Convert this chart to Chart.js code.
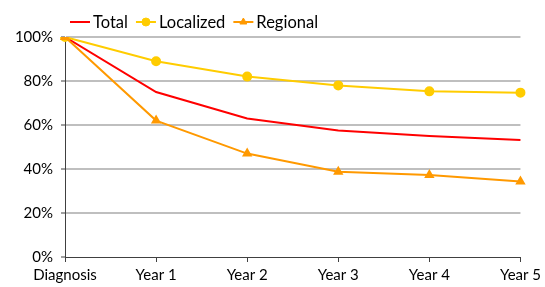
<!DOCTYPE html>
<html>
<head>
<meta charset="utf-8">
<script src="https://cdn.jsdelivr.net/npm/chart.js@4/dist/chart.umd.min.js"></script>
<style>
    html, body { margin: 0; padding: 0; background: #fff; }
    #wrap { position: relative; width: 545px; height: 287px; }
</style>
</head>
<body>
<div id="wrap"><canvas id="chart1"></canvas></div>
<script>
// values (percent surviving)
var categories = ['Diagnosis', 'Year 1', 'Year 2', 'Year 3', 'Year 4', 'Year 5'];
var totalValues = [100, 75, 63, 57.5, 55, 53.2];
var localizedValues = [100, 89, 82, 78, 75.3, 74.7];
var regionalValues = [100, 62, 47, 38.8, 37.3, 34.3];
var yTicks = [0, 20, 40, 60, 80, 100];

var FONT = 'Lato';

// simple legend drawn above the plot: line + marker + label
var lineLegend = {
    id: 'lineLegend',
    afterDraw: function (chart) {
        var ctx = chart.ctx;
        var x = 70;
        var y = 22;
        ctx.save();
        ctx.font = '16.5px ' + FONT;
        ctx.textBaseline = 'middle';
        ctx.textAlign = 'left';
        chart.data.datasets.forEach(function (ds) {
            ctx.strokeStyle = ds.borderColor;
            ctx.lineWidth = 2;
            ctx.beginPath();
            ctx.moveTo(x, y);
            ctx.lineTo(x + 20, y);
            ctx.stroke();
            if (ds.pointRadius > 0) {
                ctx.fillStyle = ds.pointBackgroundColor;
                ctx.strokeStyle = ds.borderColor;
                ctx.lineWidth = 1;
                Chart.helpers.drawPoint(ctx, {
                    pointStyle: ds.pointStyle,
                    radius: ds.pointRadius,
                    rotation: 0,
                    borderWidth: 1
                }, x + 10, y);
            }
            ctx.fillStyle = '#000';
            ctx.fillText(ds.label, x + 23, y + 1);
            x = x + 23 + ctx.measureText(ds.label).width + 8;
        });
        ctx.restore();
    }
};

var ctxChart1 = document.getElementById('chart1').getContext('2d');
var chart1 = new Chart(ctxChart1, {
    type: 'line',
    plugins: [lineLegend],
    data: {
        labels: categories,
        datasets: [{
            label: 'Total',
            data: totalValues,
            borderColor: '#ff0000',
            backgroundColor: '#ff0000',
            borderWidth: 2,
            pointRadius: 0,
            tension: 0,
            order: 2
        }, {
            label: 'Localized',
            data: localizedValues,
            borderColor: '#ffcc00',
            backgroundColor: '#ffcc00',
            pointBackgroundColor: '#ffcc00',
            pointBorderColor: '#ffcc00',
            borderWidth: 2,
            pointStyle: 'circle',
            pointRadius: 4,
            tension: 0,
            order: 1
        }, {
            label: 'Regional',
            data: regionalValues,
            borderColor: '#ff9900',
            backgroundColor: '#ff9900',
            pointBackgroundColor: '#ff9900',
            pointBorderColor: '#ff9900',
            borderWidth: 2,
            pointStyle: 'triangle',
            pointRadius: 4,
            tension: 0,
            order: 0
        }]
    },
    options: {
        responsive: true,
        maintainAspectRatio: false,
        animation: false,
        layout: {
            padding: { top: 37, right: 23, left: 0, bottom: 0 }
        },
        plugins: {
            legend: { display: false },
            title: { display: false },
            tooltip: { enabled: false }
        },
        scales: {
            x: {
                offset: false,
                grid: {
                    drawOnChartArea: false,
                    drawTicks: true,
                    tickLength: 5,
                    tickColor: '#404040'
                },
                border: { color: '#404040', width: 1 },
                ticks: {
                    color: '#000',
                    font: { family: FONT, size: 15 },
                    padding: 4,
                    maxRotation: 0,
                    autoSkip: false
                },
                afterFit: function (scale) {
                    scale.height = 30;
                }
            },
            y: {
                min: 0,
                max: 100,
                afterBuildTicks: function (scale) {
                    scale.ticks = yTicks.map(function (v) { return { value: v }; });
                },
                grid: {
                    color: function (c) {
                        return c.tick && c.tick.value === 0 ? 'rgba(0,0,0,0)' : '#bfbfbf';
                    },
                    lineWidth: 2,
                    drawTicks: true,
                    tickLength: 4,
                    tickColor: '#404040',
                    tickWidth: 1
                },
                border: { color: '#404040', width: 1 },
                ticks: {
                    color: '#000',
                    font: { family: FONT, size: 15 },
                    padding: 8,
                    callback: function (v) { return v + '%'; }
                },
                afterFit: function (scale) {
                    scale.width = 65;
                }
            }
        }
    }
});
</script>
</body>
</html>
